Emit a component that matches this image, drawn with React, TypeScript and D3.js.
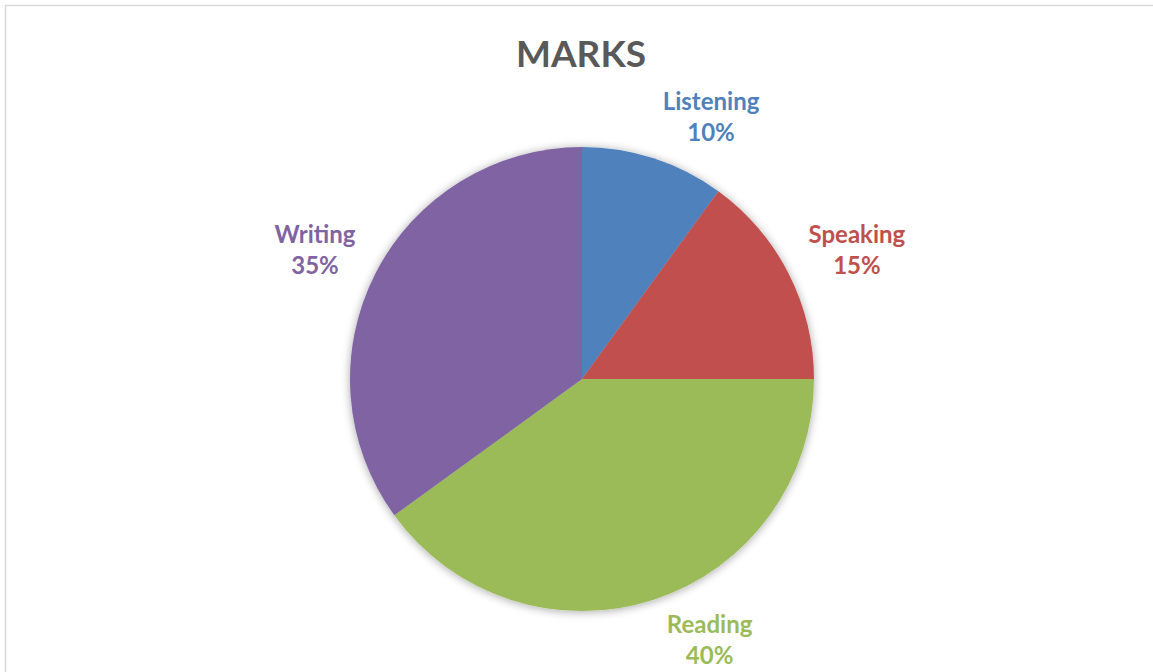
import React from "react";
import * as d3 from "d3";

const categories = ["Listening", "Speaking", "Reading", "Writing"];
const values = [10, 15, 40, 35];
const colors = ["#4F81BD", "#C0504D", "#9BBB59", "#8064A2"];
const title = "MARKS";

const W = 1153;
const H = 672;
const cx = 582;
const cy = 379;
const R = 232;
const FONT = "Lato, 'Open Sans', sans-serif";
const LABEL_SIZE = 24;
// best-fit style label direction tweaks (degrees) relative to slice mid-angle
const labelNudgeDeg = [1, 3, -2, -3];

function measure(text: string): number {
  const cnv = document.createElement("canvas");
  const ctx = cnv.getContext("2d");
  if (!ctx) return text.length * LABEL_SIZE * 0.5;
  ctx.font = `700 ${LABEL_SIZE}px Lato`;
  return ctx.measureText(text).width;
}

export default function App() {
  const total = d3.sum(values);
  const pie = d3.pie<number>().sort(null).value((d) => d)(values);
  const arc = d3.arc<d3.PieArcDatum<number>>().innerRadius(0).outerRadius(R);

  const labelH = 56;
  const labelDist = 248;

  return (
    <svg
      width={W}
      height={H}
      style={{ position: "absolute", left: 0, top: 0, background: "#fff" }}
    >
      <defs>
        <filter id="shadow" x="-20%" y="-20%" width="140%" height="140%">
          <feGaussianBlur in="SourceAlpha" stdDeviation="5" />
          <feOffset dx="0" dy="1" result="b" />
          <feComponentTransfer>
            <feFuncA type="linear" slope="0.35" />
          </feComponentTransfer>
          <feMerge>
            <feMergeNode />
            <feMergeNode in="SourceGraphic" />
          </feMerge>
        </filter>
      </defs>
      <rect x={0} y={0} width={W} height={H} fill="#fff" />
      <rect
        x={5.5}
        y={5.5}
        width={W + 20}
        height={H + 20}
        fill="none"
        stroke="#d9d9d9"
        strokeWidth={1.5}
      />
      <text
        x={581}
        y={67}
        textAnchor="middle"
        fontFamily={FONT}
        fontWeight={700}
        fontSize={37}
        fill="#595959"
      >
        {title}
      </text>
      <g transform={`translate(${cx},${cy})`} filter="url(#shadow)">
        {pie.map((p, i) => (
          <path key={i} d={arc(p) || ""} fill={colors[i]} />
        ))}
      </g>
      {pie.map((p, i) => {
        const mid = (p.startAngle + p.endAngle) / 2 + (labelNudgeDeg[i] * Math.PI) / 180;
        const s = Math.sin(mid);
        const c = -Math.cos(mid);
        const pct = Math.round((values[i] / total) * 100) + "%";
        const labelW = Math.max(measure(categories[i]), measure(pct));
        // corner of the label box nearest the pie touches the circle at labelDist
        const px = cx + labelDist * s;
        const py = cy + labelDist * c;
        const bx = px + (s >= 0 ? labelW / 2 : -labelW / 2);
        const by = py + (c >= 0 ? labelH / 2 : -labelH / 2);
        return (
          <text
            key={i}
            x={bx}
            textAnchor="middle"
            fontFamily={FONT}
            fontWeight={700}
            fontSize={LABEL_SIZE}
            fill={colors[i]}
          >
            <tspan x={bx} y={by - 7}>
              {categories[i]}
            </tspan>
            <tspan x={bx} y={by + 24}>
              {pct}
            </tspan>
          </text>
        );
      })}
    </svg>
  );
}
